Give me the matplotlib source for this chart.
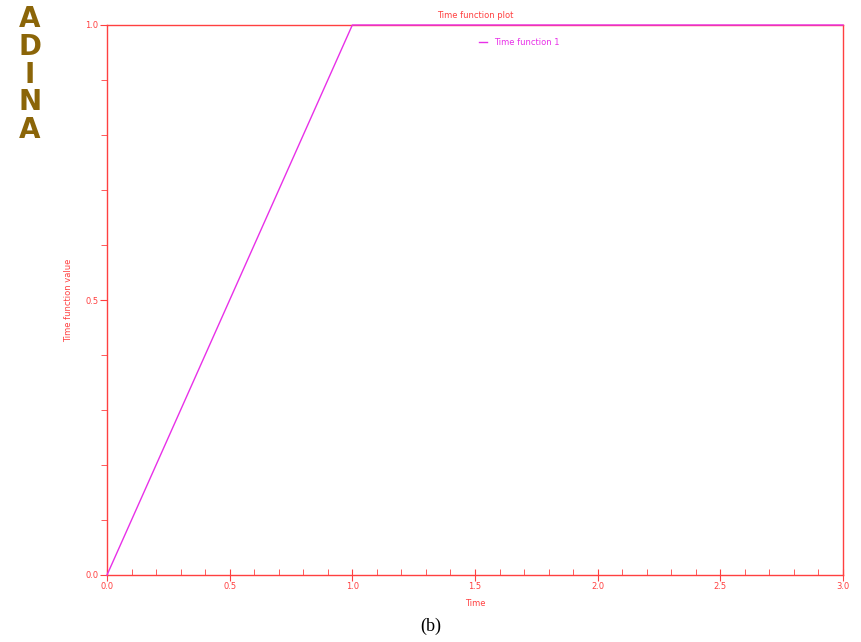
import matplotlib
matplotlib.use("Agg")
import matplotlib.pyplot as plt
import numpy as np
from matplotlib.ticker import MultipleLocator, FormatStrFormatter

time = [0.0, 1.0, 3.0]
value = [0.0, 1.0, 1.0]
series_label = "Time function 1"
title = "Time function plot"
xlabel = "Time"
ylabel = "Time function value"
logo = "ADINA"
caption = "(b)"

red = "#ff4040"
mag = "#e830e8"

fig = plt.figure(figsize=(8.62, 6.42), dpi=100)
ax = fig.add_axes([107/862, 1-575/642, (843-107)/862, (575-25)/642])
ax.plot(time, value, color=mag, lw=1.0, label=series_label, clip_on=False, zorder=5)
ax.set_xlim(0, 3)
ax.set_ylim(0, 1)
for s in ax.spines.values():
    s.set_color(red)
    s.set_linewidth(1.0)
ax.xaxis.set_major_locator(MultipleLocator(0.5))
ax.xaxis.set_minor_locator(MultipleLocator(0.1))
ax.yaxis.set_major_locator(MultipleLocator(0.5))
ax.yaxis.set_minor_locator(MultipleLocator(0.1))
ax.xaxis.set_major_formatter(FormatStrFormatter('%.1f'))
ax.yaxis.set_major_formatter(FormatStrFormatter('%.1f'))
ax.tick_params(axis='x', which='major', direction='inout', length=8, color=red, labelcolor=red, labelsize=6, pad=1)
ax.tick_params(axis='x', which='minor', direction='in', length=4, color=red)
ax.tick_params(axis='y', which='major', direction='out', length=5, color=red, labelcolor=red, labelsize=6, pad=1)
ax.tick_params(axis='y', which='minor', direction='out', length=4, color=red)
ax.set_title(title, color=red, fontsize=6, pad=5)
ax.set_xlabel(xlabel, color=red, fontsize=6, labelpad=6)
ax.set_ylabel(ylabel, color=red, fontsize=6, labelpad=9)
leg = ax.legend(loc='upper left', bbox_to_anchor=(0.495, 0.99), frameon=False, fontsize=6,
                handlelength=1.0, handletextpad=0.8)
for t in leg.get_texts():
    t.set_color(mag)

for i, ch in enumerate(logo):
    fig.text(30/862, 1-(19 + i*27.8)/642, ch, color="#8b6508", fontsize=20, fontweight='bold',
             ha='center', va='center', family='DejaVu Sans')

fig.text(431/862, 1-626/642, caption, color='black', fontsize=13, ha='center', va='center',
         family='Liberation Serif')

fig.savefig("out.png", dpi=100, facecolor='white')
